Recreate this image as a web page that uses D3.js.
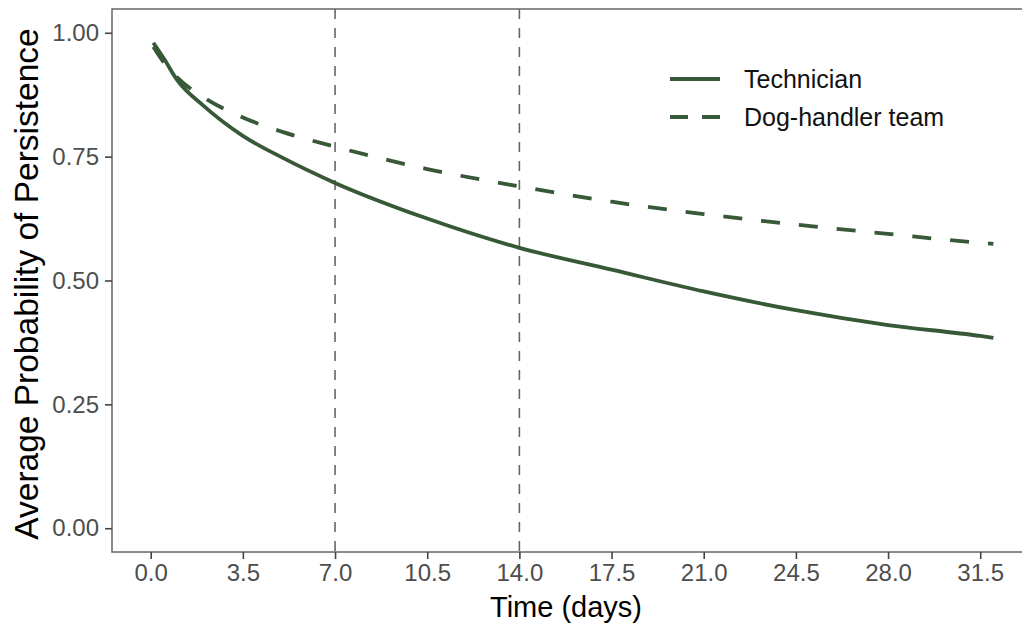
<!DOCTYPE html>
<html>
<head>
<meta charset="utf-8">
<script src="https://cdn.jsdelivr.net/npm/d3@7"></script>
<style>
  html, body { margin: 0; padding: 0; background: #fff; }
  svg { display: block; font-family: "Liberation Sans", Arial, sans-serif; }
</style>
</head>
<body>
<svg id="chart" width="1022" height="626"></svg>
<script>
// ---- data ----
const days = [0.1, 0.5, 1, 2, 3.5, 5, 7, 10.5, 14, 17.5, 21, 24.5, 28, 31.5, 32];
const technician = [0.980, 0.948, 0.905, 0.853, 0.792, 0.748, 0.697, 0.625, 0.566, 0.522, 0.478, 0.440, 0.410, 0.388, 0.384];
const dogHandler = [0.972, 0.940, 0.910, 0.870, 0.829, 0.800, 0.770, 0.725, 0.690, 0.659, 0.634, 0.613, 0.594, 0.576, 0.574];
const seriesNames = ["Technician", "Dog-handler team"];
const xTicks = [0.0, 3.5, 7.0, 10.5, 14.0, 17.5, 21.0, 24.5, 28.0, 31.5];
const yTicks = [0.00, 0.25, 0.50, 0.75, 1.00];
const refLines = [7, 14];

// ---- layout ----
const svg = d3.select("#chart");
const pL = 112, pR = 1035, pT = 9, pB = 552;
const lineColor = "#375937";

const x = d3.scaleLinear().domain([-1.47, 33.58]).range([pL, pR]);
const y = d3.scaleLinear().domain([-0.048, 1.048]).range([pB, pT]);

// panel border
svg.append("rect")
  .attr("x", pL).attr("y", pT)
  .attr("width", pR - pL).attr("height", pB - pT)
  .attr("fill", "none").attr("stroke", "#666").attr("stroke-width", 1.5);

// reference vertical lines
svg.selectAll("line.ref").data(refLines).join("line")
  .attr("class", "ref")
  .attr("x1", d => x(d)).attr("x2", d => x(d))
  .attr("y1", pT).attr("y2", pB)
  .attr("stroke", "#666").attr("stroke-width", 1.6)
  .attr("stroke-dasharray", "10,9");

// axes
const xAxis = svg.append("g").attr("transform", `translate(0,${pB})`)
  .call(d3.axisBottom(x).tickValues(xTicks).tickFormat(d3.format(".1f")).tickSize(7).tickPadding(5));
const yAxis = svg.append("g").attr("transform", `translate(${pL},0)`)
  .call(d3.axisLeft(y).tickValues(yTicks).tickFormat(d3.format(".2f")).tickSize(7).tickPadding(6));
[xAxis, yAxis].forEach(g => {
  g.select(".domain").remove();
  g.selectAll(".tick line").attr("stroke", "#444").attr("stroke-width", 1.6);
  g.selectAll(".tick text").attr("fill", "#4d4d4d").style("font-size", "24px");
});

// lines
const line = d3.line().x(d => x(d[0])).y(d => y(d[1])).curve(d3.curveMonotoneX);
const dataSets = [technician, dogHandler];
const dashes = [null, "19,19"];
dataSets.forEach((vals, i) => {
  svg.append("path")
    .datum(days.map((d, j) => [d, vals[j]]))
    .attr("d", line)
    .attr("fill", "none")
    .attr("stroke", lineColor)
    .attr("stroke-width", 3.8)
    .attr("stroke-dasharray", dashes[i]);
});

// legend
const leg = svg.append("g");
seriesNames.forEach((name, i) => {
  const ly = 79 + i * 38;
  leg.append("line")
    .attr("x1", 670).attr("x2", 720).attr("y1", ly).attr("y2", ly)
    .attr("stroke", lineColor).attr("stroke-width", 3.8)
    .attr("stroke-dasharray", dashes[i] ? "18,14" : null);
  leg.append("text")
    .attr("x", 744).attr("y", ly).attr("dy", "0.35em")
    .style("font-size", "25px").attr("fill", "#111")
    .text(name);
});

// axis titles
svg.append("text")
  .attr("x", 566).attr("y", 617)
  .attr("text-anchor", "middle")
  .style("font-size", "29px").attr("fill", "#000")
  .text("Time (days)");
svg.append("text")
  .attr("transform", `translate(38,284) rotate(-90)`)
  .attr("text-anchor", "middle")
  .style("font-size", "33.5px").attr("fill", "#000")
  .text("Average Probability of Persistence");
</script>
</body>
</html>
